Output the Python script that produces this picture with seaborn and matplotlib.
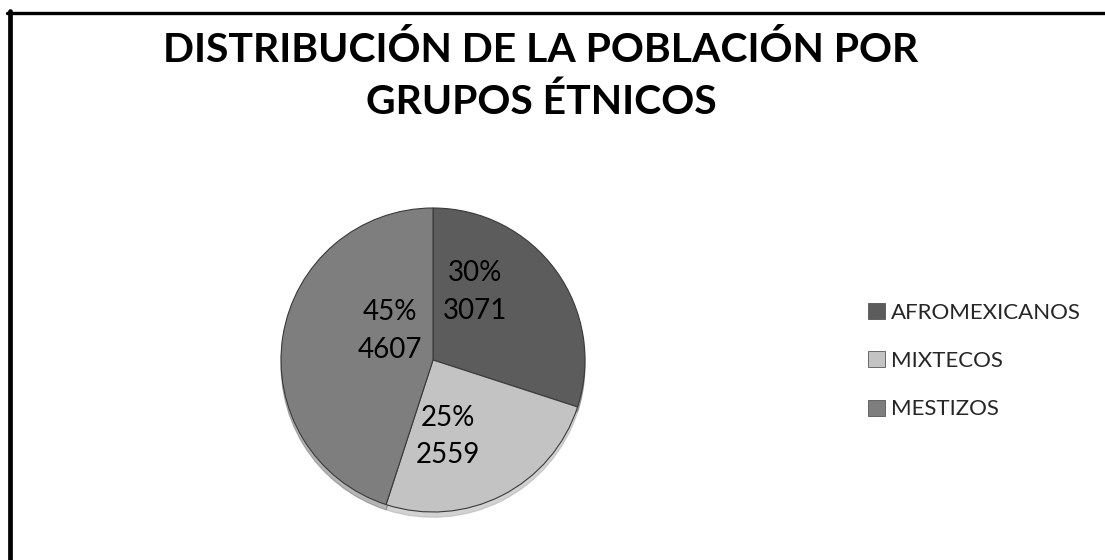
import matplotlib
matplotlib.use("Agg")
import matplotlib.pyplot as plt
from matplotlib.lines import Line2D
from matplotlib.patches import Patch
import numpy as np
import seaborn as sns

# data
categories = ["AFROMEXICANOS", "MIXTECOS", "MESTIZOS"]
values = [3071, 2559, 4607]
slice_colors = ["#5c5c5c", "#c3c3c3", "#7e7e7e"]
title = "DISTRIBUCIÓN DE LA POBLACIÓN POR\nGRUPOS ÉTNICOS"

sns.set_theme(style="white")
plt.rcParams["font.family"] = ["Lato", "DejaVu Sans"]

W, H = 1105, 560
fig = plt.figure(figsize=(W / 100, H / 100), dpi=100)
fig.patch.set_facecolor("white")

# pie axes: centre ~ (433, 360), radius ~152 px
r_px = 152
cx, cy = 433, 360
ax = fig.add_axes([(cx - r_px) / W, (H - cy - r_px) / H, 2 * r_px / W, 2 * r_px / H])

total = sum(values)
wedges, _ = ax.pie(
    values,
    colors=slice_colors,
    startangle=90,
    counterclock=False,
    radius=1.0,
    wedgeprops=dict(edgecolor="#3a3a3a", linewidth=0.8),
    shadow=dict(ox=0.0, oy=-0.025, shade=0.15),
)
ax.set_xlim(-1, 1)
ax.set_ylim(-1, 1)
ax.set_aspect("equal")

# label placement (angle in degrees from east, radius as fraction)
label_pos = [(58, 0.528), (-78.9, 0.513), (146.3, 0.344)]
for v, (ang, rad) in zip(values, label_pos):
    t = np.deg2rad(ang)
    ax.text(rad * np.cos(t), rad * np.sin(t),
            f"{round(100 * v / total)}%\n{v}",
            ha="center", va="center", fontsize=20, color="black",
            linespacing=1.55)

# title
fig.text(541 / W, 1 - 76 / H, title, ha="center", va="center",
         fontsize=29.4, fontweight="bold", color="black", linespacing=1.45)

# legend
handles = [Patch(facecolor=c, edgecolor="#555555", linewidth=0.6) for c in slice_colors]
leg = fig.legend(handles, categories, loc="center left",
                 bbox_to_anchor=(848 / W, 1 - 361 / H),
                 frameon=False, fontsize=16, handlelength=0.75, handleheight=0.75,
                 handletextpad=0.3, labelspacing=1.28)

# partial frame (top and left edges only)
fig.add_artist(Line2D([7 / W, 1], [1 - 12.5 / H] * 2, color="black", lw=2.4,
                      transform=fig.transFigure))
fig.add_artist(Line2D([9.5 / W] * 2, [1 - 11 / H, 0], color="black", lw=3.4,
                      transform=fig.transFigure))

fig.savefig("out.png", dpi=100, facecolor="white")
